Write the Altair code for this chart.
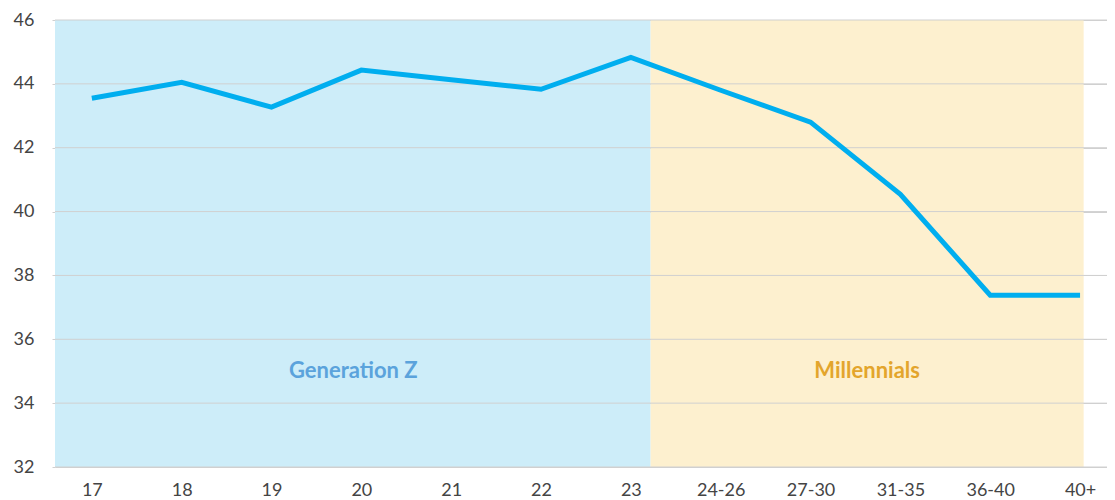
import altair as alt
import pandas as pd

# ---- data ----
ages = ["17", "18", "19", "20", "21", "22", "23", "24-26", "27-30", "31-35", "36-40", "40+"]
values = [43.55, 44.05, 43.27, 44.43, 44.13, 43.83, 44.83, 43.8, 42.8, 40.54, 37.38, 37.38]

gen_names = ["Generation Z", "Millennials"]
gen_start = [-0.41, 6.22]
gen_end = [6.22, 11.04]
gen_label_x = [2.91, 8.63]
gen_label_y = [35.0, 35.0]
gen_fill = ["#cdedf9", "#fdf0cf"]
gen_text = ["#5ba3dc", "#e3a52c"]

y_ticks = [32, 34, 36, 38, 40, 42, 44, 46]

line_df = pd.DataFrame({"idx": list(range(len(ages))), "age": ages, "value": values})
gen_df = pd.DataFrame({
    "gen": gen_names, "start": gen_start, "end": gen_end,
    "lx": gen_label_x, "ly": gen_label_y,
    "y0": [32, 32], "y1": [46, 46],
})

FONT = "Lato"
x_dom = [-0.41, 11.30]
label_expr = "[" + ",".join("'" + a + "'" for a in ages) + "][datum.value]"

x_scale = alt.Scale(domain=x_dom, nice=False, zero=False)
y_scale = alt.Scale(domain=[32, 46], nice=False, zero=False)

bg = alt.Chart(gen_df).mark_rect().encode(
    x=alt.X("start:Q", scale=x_scale, axis=alt.Axis(
        values=list(range(len(ages))), labelExpr=label_expr, grid=False,
        domain=False, ticks=False, labelFontSize=18, labelColor="#444444",
        labelFont=FONT, labelPadding=14, title=None)),
    x2="end:Q",
    y=alt.Y("y0:Q", scale=y_scale, axis=alt.Axis(
        values=y_ticks, grid=True, gridColor="#d0d0d0", gridWidth=1,
        domain=False, ticks=True, tickSize=3, tickColor="#d0d0d0",
        labelFontSize=18, labelColor="#444444", labelFont=FONT,
        labelPadding=18, title=None)),
    y2="y1:Q",
    color=alt.Color("gen:N", scale=alt.Scale(domain=gen_names, range=gen_fill), legend=None),
)

grid = alt.Chart(pd.DataFrame({"v": y_ticks})).mark_rule(color="#d0d0d0", strokeWidth=1).encode(
    y=alt.Y("v:Q", scale=y_scale),
)

line = alt.Chart(line_df).mark_line(color="#00aeef", strokeWidth=5, strokeJoin="miter").encode(
    x=alt.X("idx:Q", scale=x_scale),
    y=alt.Y("value:Q", scale=y_scale),
)

labels = alt.Chart(gen_df).mark_text(fontSize=22, fontWeight="bold", font=FONT).encode(
    x=alt.X("lx:Q", scale=x_scale),
    y=alt.Y("ly:Q", scale=y_scale),
    text="gen:N",
    color=alt.Color("gen:N", scale=alt.Scale(domain=gen_names, range=gen_text), legend=None),
)

chart = alt.layer(bg, grid, line, labels).resolve_scale(color="independent").properties(
    width=1052, height=447,
    autosize=alt.AutoSizeParams(type="none"),
    padding={"left": 47, "top": 12, "right": 0, "bottom": 33},
).configure_view(stroke=None)

chart.save("out.html", embed_options={"renderer": "svg", "actions": False})
